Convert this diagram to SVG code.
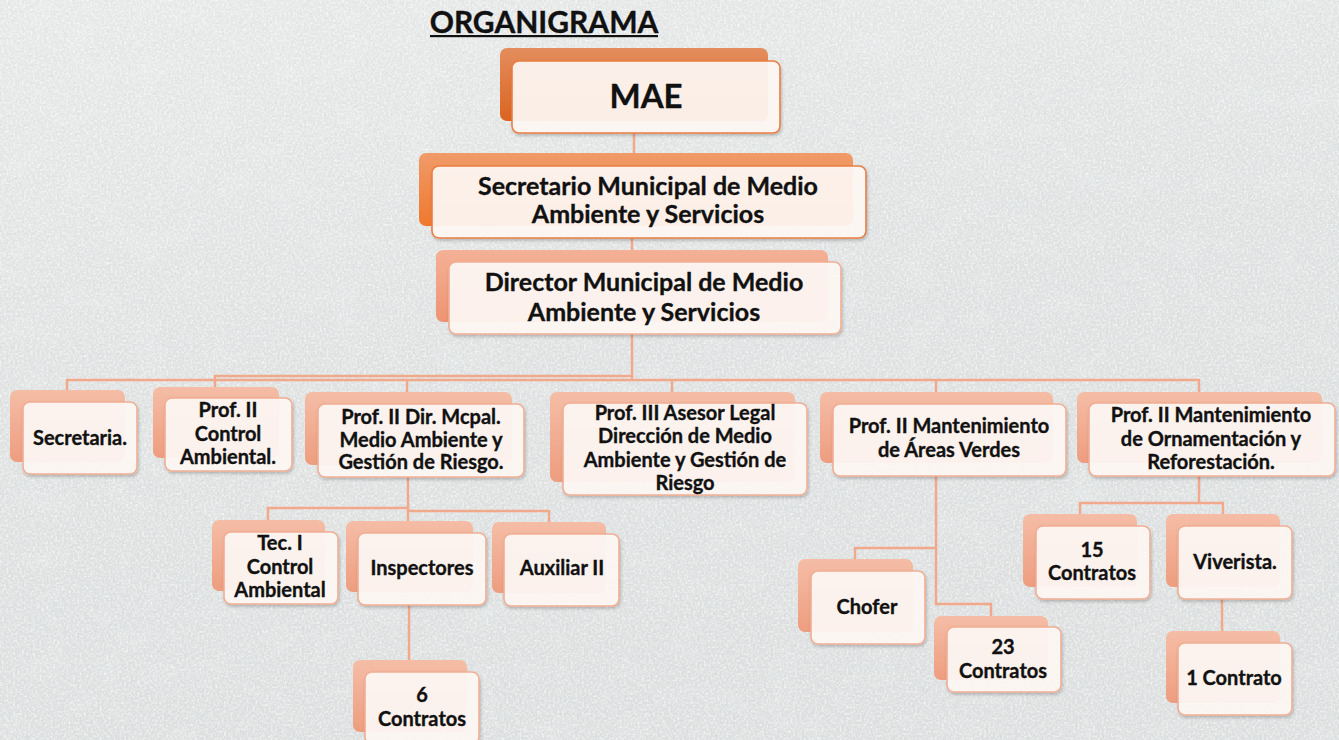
<svg xmlns="http://www.w3.org/2000/svg" width="1339" height="740" viewBox="0 0 1339 740">
<defs>
<style>
.t{font-family:Lato,"Liberation Sans",sans-serif;font-weight:bold;fill:#111;stroke:#111;stroke-width:0.35;text-anchor:middle}
.s{font-size:20px}
.m{font-size:25px}
.back{fill:url(#gBack)}
.front{fill:#FFF8F5;fill-opacity:0.92;stroke:#F1AE94;stroke-width:1.6;filter:url(#sh)}
.frontO{fill:#FFF8F5;fill-opacity:0.92;stroke:#EA7E42;stroke-width:1.6;filter:url(#sh)}
.c{fill:none;stroke:#F1A98C;stroke-width:2.5}
</style>
<linearGradient id="gBack" x1="0" y1="0" x2="0" y2="1">
<stop offset="0" stop-color="#F5BDA6"/><stop offset="1" stop-color="#EE9D7F"/>
</linearGradient>
<linearGradient id="gMae" x1="0" y1="0" x2="0" y2="1">
<stop offset="0" stop-color="#E48D5E"/><stop offset="1" stop-color="#DB6420"/>
</linearGradient>
<linearGradient id="gSec" x1="0" y1="0" x2="0" y2="1">
<stop offset="0" stop-color="#F09B6A"/><stop offset="1" stop-color="#F0782C"/>
</linearGradient>
<linearGradient id="gDir" x1="0" y1="0" x2="0" y2="1">
<stop offset="0" stop-color="#F4B196"/><stop offset="1" stop-color="#EE9372"/>
</linearGradient>
<linearGradient id="gLight" x1="0" y1="0" x2="0.3" y2="1">
<stop offset="0" stop-color="#fff" stop-opacity="0.3"/><stop offset="0.5" stop-color="#fff" stop-opacity="0.08"/><stop offset="1" stop-color="#fff" stop-opacity="0"/>
</linearGradient>
<filter id="sh" x="-10%" y="-10%" width="120%" height="130%">
<feDropShadow dx="1" dy="2" stdDeviation="1.5" flood-color="#000" flood-opacity="0.22"/>
</filter>
<filter id="grain" x="0" y="0" width="100%" height="100%">
<feTurbulence type="fractalNoise" baseFrequency="0.45" numOctaves="2" seed="4"/>
<feColorMatrix type="matrix" values="0 0 0 0 1  0 0 0 0 1  0 0 0 0 1  2 0 0 0 -0.8"/>
</filter>
<filter id="grainD" x="0" y="0" width="100%" height="100%">
<feTurbulence type="fractalNoise" baseFrequency="0.4" numOctaves="2" seed="9"/>
<feColorMatrix type="matrix" values="0 0 0 0 0.55  0 0 0 0 0.57  0 0 0 0 0.57  -2 0 0 0 0.85"/>
</filter>
<filter id="blot" x="0" y="0" width="100%" height="100%">
<feTurbulence type="fractalNoise" baseFrequency="0.03 0.035" numOctaves="2" seed="2"/>
<feComponentTransfer><feFuncA type="discrete" tableValues="0 0 0 0.6 1"/></feComponentTransfer>
<feColorMatrix type="matrix" values="0 0 0 0 0.76  0 0 0 0 0.8  0 0 0 0 0.81  0 0 0 1 0"/>
</filter>
</defs>

<g id="background">
<rect width="1339" height="740" fill="#DCDFDF"/>
<rect width="1339" height="740" filter="url(#blot)" opacity="0.5"/>
<rect width="1339" height="740" fill="url(#gLight)"/>
<rect width="1339" height="740" filter="url(#grain)" opacity="0.75"/>
<rect width="1339" height="740" filter="url(#grainD)" opacity="0.4"/>
</g>

<g id="title">
<text x="544" y="33" class="t" style="font-size:30px">ORGANIGRAMA</text>
<rect x="430" y="35" width="228" height="2.2" fill="#111"/>
</g>

<g id="connectors">
<path class="c" d="M634 133V166"/>
<path class="c" d="M632 238V250"/>
<path class="c" d="M632 334V380"/>
<path class="c" d="M632 376H215V387"/>
<path class="c" d="M67 390V380H1199V392"/>
<path class="c" d="M407 380V392"/>
<path class="c" d="M672 380V392"/>
<path class="c" d="M936 380V392"/>
<path class="c" d="M408 477V521"/>
<path class="c" d="M408 508H268V520"/>
<path class="c" d="M408 511H549V522"/>
<path class="c" d="M409 605V660"/>
<path class="c" d="M936 476V604H991V616"/>
<path class="c" d="M936 548H855V559"/>
<path class="c" d="M1199 476V503H1080V514"/>
<path class="c" d="M1199 503H1223V514"/>
<path class="c" d="M1222 599V631"/>
</g>

<g id="mae">
<rect x="500" y="48" width="268" height="73" rx="7" fill="url(#gMae)"/>
<rect x="512" y="61" width="268" height="72" rx="7" class="frontO"/>
<text x="646" y="108" class="t" style="font-size:33px">MAE</text>
</g>

<g id="secretario">
<rect x="419" y="153" width="434" height="73" rx="7" fill="url(#gSec)"/>
<rect x="432" y="166" width="434" height="72" rx="7" class="frontO"/>
<text x="648" y="195" class="t m">Secretario Municipal de Medio</text>
<text x="648" y="223" class="t m">Ambiente y Servicios</text>
</g>

<g id="director">
<rect x="436" y="250" width="392" height="72" rx="7" fill="url(#gDir)"/>
<rect x="449" y="262" width="392" height="72" rx="7" class="front"/>
<text x="644" y="291" class="t m">Director Municipal de Medio</text>
<text x="644" y="321" class="t m">Ambiente y Servicios</text>
</g>

<g id="secretaria">
<rect x="10" y="390" width="115" height="72" rx="7" class="back"/>
<rect x="23" y="402" width="114" height="72" rx="7" class="front"/>
<text x="80" y="445" class="t s">Secretaria.</text>
</g>

<g id="prof-control">
<rect x="153" y="387" width="126" height="71" rx="7" class="back"/>
<rect x="165" y="398" width="127" height="73" rx="7" class="front"/>
<text x="228" y="417" class="t s">Prof. II</text>
<text x="228" y="441" class="t s">Control</text>
<text x="228" y="464" class="t s">Ambiental.</text>
</g>

<g id="prof-dir">
<rect x="305" y="392" width="207" height="73" rx="7" class="back"/>
<rect x="318" y="404" width="206" height="73" rx="7" class="front"/>
<text x="421" y="424" class="t s">Prof. II Dir. Mcpal.</text>
<text x="421" y="447" class="t s">Medio Ambiente y</text>
<text x="421" y="469" class="t s">Gestión de Riesgo.</text>
</g>

<g id="prof-asesor">
<rect x="550" y="392" width="245" height="90" rx="7" class="back"/>
<rect x="563" y="403" width="244" height="92" rx="7" class="front"/>
<text x="685" y="420" class="t s">Prof. III Asesor Legal</text>
<text x="685" y="443" class="t s">Dirección de Medio</text>
<text x="685" y="467" class="t s">Ambiente y Gestión de</text>
<text x="685" y="490" class="t s">Riesgo</text>
</g>

<g id="prof-areas">
<rect x="820" y="392" width="233" height="71" rx="7" class="back"/>
<rect x="833" y="404" width="233" height="72" rx="7" class="front"/>
<text x="949" y="433" class="t s">Prof. II Mantenimiento</text>
<text x="949" y="457" class="t s">de Áreas Verdes</text>
</g>

<g id="prof-orn">
<rect x="1077" y="392" width="245" height="71" rx="7" class="back"/>
<rect x="1089" y="403" width="246" height="73" rx="7" class="front"/>
<text x="1211" y="422" class="t s">Prof. II Mantenimiento</text>
<text x="1211" y="446" class="t s">de Ornamentación y</text>
<text x="1211" y="469" class="t s">Reforestación.</text>
</g>

<g id="tec">
<rect x="212" y="520" width="113" height="71" rx="7" class="back"/>
<rect x="224" y="532" width="114" height="72" rx="7" class="front"/>
<text x="280" y="550" class="t s">Tec. I</text>
<text x="280" y="574" class="t s">Control</text>
<text x="280" y="597" class="t s">Ambiental</text>
</g>

<g id="inspectores">
<rect x="346" y="521" width="127" height="71" rx="7" class="back"/>
<rect x="358" y="533" width="128" height="72" rx="7" class="front"/>
<text x="422" y="575" class="t s">Inspectores</text>
</g>

<g id="auxiliar">
<rect x="492" y="522" width="114" height="71" rx="7" class="back"/>
<rect x="504" y="534" width="115" height="72" rx="7" class="front"/>
<text x="562" y="575" class="t s">Auxiliar II</text>
</g>

<g id="contratos6">
<rect x="353" y="660" width="114" height="72" rx="7" class="back"/>
<rect x="365" y="672" width="114" height="72" rx="7" class="front"/>
<text x="422" y="702" class="t s">6</text>
<text x="422" y="726" class="t s">Contratos</text>
</g>

<g id="chofer">
<rect x="798" y="559" width="115" height="73" rx="7" class="back"/>
<rect x="811" y="571" width="114" height="73" rx="7" class="front"/>
<text x="867" y="614" class="t s">Chofer</text>
</g>

<g id="contratos23">
<rect x="934" y="616" width="114" height="64" rx="7" class="back"/>
<rect x="947" y="627" width="114" height="65" rx="7" class="front"/>
<text x="1003" y="654" class="t s">23</text>
<text x="1003" y="678" class="t s">Contratos</text>
</g>

<g id="contratos15">
<rect x="1023" y="514" width="114" height="73" rx="7" class="back"/>
<rect x="1036" y="526" width="114" height="73" rx="7" class="front"/>
<text x="1092" y="557" class="t s">15</text>
<text x="1092" y="580" class="t s">Contratos</text>
</g>

<g id="viverista">
<rect x="1166" y="514" width="114" height="73" rx="7" class="back"/>
<rect x="1178" y="526" width="114" height="73" rx="7" class="front"/>
<text x="1235" y="569" class="t s">Viverista.</text>
</g>

<g id="contrato1">
<rect x="1166" y="631" width="114" height="72" rx="7" class="back"/>
<rect x="1178" y="643" width="114" height="72" rx="7" class="front"/>
<text x="1234" y="685" class="t s">1 Contrato</text>
</g>
</svg>
